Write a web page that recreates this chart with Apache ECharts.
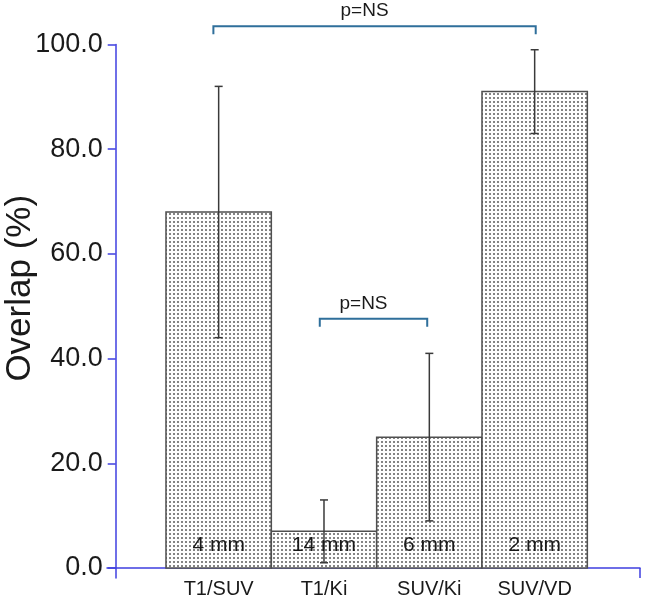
<!DOCTYPE html>
<html>
<head>
<meta charset="utf-8">
<script src="https://cdn.jsdelivr.net/npm/echarts@6/dist/echarts.min.js"></script>
<style>html,body{margin:0;padding:0;background:#fff}#chart{width:645px;height:600px}</style>
</head>
<body>
<div id="chart"></div>
<script>
// ---- data ----
const categories = ['T1/SUV', 'T1/Ki', 'SUV/Ki', 'SUV/VD'];
const overlap    = [68, 7, 25, 91];
const errLow     = [44, 1, 9, 83];
const errHigh    = [92, 13, 41, 99];
const distLabels = ['4 mm', '14 mm', '6 mm', '2 mm'];
const yTicks     = [0, 20, 40, 60, 80, 100];
const sigFrom    = [-0.05, 0.96];
const sigTo      = [3.01, 1.98];
const sigLevel   = [103.5, 47.6];
const sigText    = ['p=NS', 'p=NS'];

// ---- styling ----
const AXIS = '#3f3fe0';
const FONT = '"Liberation Sans", Arial, sans-serif';

const pc = document.createElement('canvas');
pc.width = 4; pc.height = 4;
const pctx = pc.getContext('2d');
pctx.fillStyle = '#ffffff'; pctx.fillRect(0, 0, 4, 4);
pctx.fillStyle = '#858585'; pctx.fillRect(1, 1, 2, 2);
const dotPattern = { image: pc, repeat: 'repeat' };

const barData = categories.map((c, i) => [i, overlap[i]]);
const errData = categories.map((c, i) => [i, errLow[i], errHigh[i]]);
const lblData = categories.map((c, i) => [i, distLabels[i]]);
const sigData = sigFrom.map((f, i) => [f, sigTo[i], sigLevel[i], sigText[i]]);

const chart = echarts.init(document.getElementById('chart'), null, { renderer: 'canvas' });
chart.setOption({
  animation: false,
  backgroundColor: '#ffffff',
  grid: { left: 107, right: 5, top: 44.5, bottom: 22, containLabel: false, outerBoundsMode: 'none' },
  xAxis: {
    type: 'value', min: -1.06, max: 4,
    axisLine: { show: true, onZero: true, lineStyle: { color: AXIS, width: 1.5 } },
    axisTick: { show: true, customValues: [4], length: 10, lineStyle: { color: AXIS, width: 1.5 } },
    axisLabel: {
      customValues: [0, 1, 2, 3],
      formatter: v => categories[Math.round(v)] || '',
      color: '#1a1a1a', fontFamily: FONT, fontSize: 20, margin: 1
    },
    splitLine: { show: false }
  },
  yAxis: {
    type: 'value', min: -1.91, max: 100, offset: -8.7,
    name: 'Overlap (%)', nameLocation: 'middle', nameGap: 78, nameMoveOverlap: false,
    nameTextStyle: { color: '#1a1a1a', fontFamily: FONT, fontSize: 35, padding: [0, 0, 0, 46] },
    axisLine: { show: true, onZero: false, lineStyle: { color: AXIS, width: 1.5 } },
    axisTick: { show: true, customValues: yTicks, length: 8, lineStyle: { color: AXIS, width: 1.5 } },
    axisLabel: {
      customValues: yTicks, formatter: v => Number(v).toFixed(1),
      color: '#1a1a1a', fontFamily: FONT, fontSize: 27, margin: 13
    },
    splitLine: { show: false }
  },
  series: [
    {
      type: 'custom', data: barData, z: 2,
      renderItem: (params, api) => {
        const i = api.value(0), v = api.value(1);
        const p0 = api.coord([i - 0.5, v]);
        const p1 = api.coord([i + 0.5, 0]);
        return {
          type: 'rect',
          shape: { x: p0[0], y: p0[1], width: p1[0] - p0[0], height: p1[1] - p0[1] },
          style: { fill: dotPattern, stroke: '#505050', lineWidth: 1.5 }
        };
      }
    },
    {
      type: 'custom', data: errData, z: 3,
      renderItem: (params, api) => {
        const i = api.value(0);
        const lo = api.coord([i, api.value(1)]);
        const hi = api.coord([i, api.value(2)]);
        const st = { stroke: '#3a3a3a', lineWidth: 1.5 };
        return {
          type: 'group',
          children: [
            { type: 'line', shape: { x1: lo[0], y1: lo[1], x2: hi[0], y2: hi[1] }, style: st },
            { type: 'line', shape: { x1: hi[0] - 4, y1: hi[1], x2: hi[0] + 4, y2: hi[1] }, style: st },
            { type: 'line', shape: { x1: lo[0] - 4, y1: lo[1], x2: lo[0] + 4, y2: lo[1] }, style: st }
          ]
        };
      }
    },
    {
      type: 'custom', data: lblData, z: 4,
      encode: { x: 0 },
      renderItem: (params, api) => {
        const i = api.value(0);
        const p = api.coord([i, 4.4]);
        return {
          type: 'text',
          style: {
            x: p[0], y: p[1], text: distLabels[i], align: 'center', verticalAlign: 'middle',
            fill: '#1a1a1a', font: '21px ' + FONT
          }
        };
      }
    },
    {
      type: 'custom', data: sigData, z: 5,
      renderItem: (params, api) => {
        const a = api.value(0), b = api.value(1), lv = api.value(2);
        const pa = api.coord([a, lv]);
        const pb = api.coord([b, lv]);
        const mid = (pa[0] + pb[0]) / 2 - 10;
        return {
          type: 'group',
          children: [
            {
              type: 'polyline',
              shape: { points: [[pa[0], pa[1] + 8], [pa[0], pa[1]], [pb[0], pb[1]], [pb[0], pb[1] + 8]] },
              style: { stroke: '#2f6f9b', lineWidth: 2, fill: null }
            },
            {
              type: 'text',
              style: {
                x: mid, y: pa[1] - 15, text: sigText[params.dataIndex], align: 'center',
                verticalAlign: 'middle', fill: '#1a1a1a', font: '19px ' + FONT
              }
            }
          ]
        };
      }
    }
  ]
});
</script>
</body>
</html>
